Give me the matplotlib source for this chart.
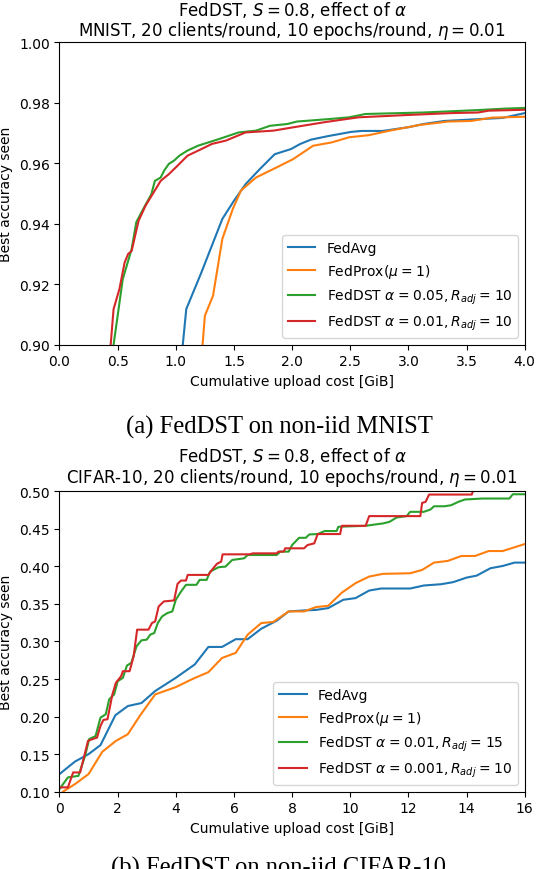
import matplotlib
matplotlib.use('Agg')
import matplotlib.pyplot as plt

# (a) MNIST
mn_avg_x = [1.06, 1.09, 1.22, 1.40, 1.50, 1.60, 1.72, 1.85, 1.99, 2.07, 2.16, 2.31, 2.51, 2.60, 2.78, 3.01, 3.13, 3.31, 3.60, 3.81, 4.0]
mn_avg_y = [0.900, 0.9118, 0.9239, 0.9416, 0.9476, 0.9531, 0.958, 0.963, 0.9647, 0.9664, 0.9678, 0.969, 0.9704, 0.9707, 0.9707, 0.972, 0.973, 0.974, 0.9746, 0.975, 0.9766]
mn_prox_x = [1.23, 1.25, 1.32, 1.40, 1.49, 1.56, 1.69, 1.87, 2.01, 2.18, 2.34, 2.49, 2.66, 2.84, 3.10, 3.34, 3.54, 3.72, 4.0]
mn_prox_y = [0.900, 0.9096, 0.9162, 0.935, 0.9449, 0.951, 0.9553, 0.9587, 0.9614, 0.9658, 0.9669, 0.9686, 0.9693, 0.9708, 0.9727, 0.9738, 0.974, 0.9751, 0.9754]
mn_dst1_x = [0.465, 0.50, 0.544, 0.62, 0.66, 0.72, 0.79, 0.82, 0.87, 0.90, 0.94, 0.985, 1.03, 1.10, 1.19, 1.37, 1.54, 1.69, 1.81, 1.96, 2.04, 2.31, 2.49, 2.63, 3.13, 3.60, 3.84, 4.0]
mn_dst1_y = [0.900, 0.9096, 0.9217, 0.9316, 0.9405, 0.9449, 0.9498, 0.9542, 0.9553, 0.9576, 0.9598, 0.9609, 0.9625, 0.9642, 0.9658, 0.968, 0.9702, 0.9708, 0.9724, 0.973, 0.9738, 0.9746, 0.9752, 0.9763, 0.9768, 0.9776, 0.9781, 0.9783]
mn_dst2_x = [0.44, 0.465, 0.515, 0.56, 0.59, 0.62, 0.68, 0.74, 0.81, 0.87, 0.94, 1.015, 1.10, 1.22, 1.31, 1.43, 1.60, 1.84, 2.01, 2.28, 2.57, 3.01, 3.37, 3.60, 3.69, 4.0]
mn_dst2_y = [0.900, 0.9118, 0.9184, 0.9272, 0.930, 0.931, 0.941, 0.946, 0.9504, 0.9542, 0.9564, 0.9592, 0.9625, 0.9647, 0.9664, 0.9675, 0.9702, 0.9708, 0.9719, 0.9736, 0.9752, 0.976, 0.9766, 0.9768, 0.9774, 0.9777]

# (b) CIFAR-10
cf_avg_x = [0, 0.53, 1.0, 1.41, 1.92, 2.35, 2.82, 3.29, 4.0, 4.65, 5.12, 5.59, 6.06, 6.47, 6.94, 7.47, 7.88, 8.41, 8.82, 9.24, 9.76, 10.18, 10.65, 11.06, 12.06, 12.53, 13.12, 13.53, 14.0, 14.35, 14.82, 15.24, 15.65, 16.0]
cf_avg_y = [0.1234, 0.140, 0.150, 0.162, 0.2017, 0.214, 0.218, 0.234, 0.2516, 0.2693, 0.2927, 0.2927, 0.303, 0.303, 0.317, 0.3276, 0.340, 0.3413, 0.342, 0.3444, 0.3555, 0.3577, 0.3678, 0.3705, 0.3705, 0.3745, 0.3762, 0.3789, 0.385, 0.3877, 0.3975, 0.4005, 0.405, 0.405]
cf_prox_x = [0.12, 0.53, 1.0, 1.47, 1.94, 2.35, 2.76, 3.29, 4.0, 4.59, 5.12, 5.59, 6.06, 6.47, 6.94, 7.35, 7.88, 8.41, 8.82, 9.24, 9.71, 10.18, 10.65, 11.12, 12.06, 12.47, 12.88, 13.35, 13.82, 14.29, 14.76, 15.24, 16.0]
cf_prox_y = [0.100, 0.110, 0.1234, 0.153, 0.1676, 0.1765, 0.2008, 0.2295, 0.2392, 0.2503, 0.2591, 0.278, 0.2848, 0.309, 0.3245, 0.3259, 0.340, 0.340, 0.3457, 0.3475, 0.365, 0.3776, 0.3864, 0.390, 0.3908, 0.3952, 0.405, 0.4072, 0.4138, 0.4138, 0.4204, 0.4204, 0.4297]
cf_dst1_x = [0, 0.29, 0.65, 0.88, 1.02, 1.24, 1.41, 1.59, 1.71, 1.88, 2.0, 2.18, 2.32, 2.47, 2.65, 2.82, 3.0, 3.12, 3.26, 3.38, 3.53, 3.71, 3.88, 4.0, 4.18, 4.35, 4.71, 4.82, 5.06, 5.18, 5.47, 5.71, 5.94, 6.35, 6.47, 7.47, 7.59, 7.88, 8.0, 8.24, 8.47, 8.59, 8.88, 9.12, 9.53, 9.59, 10.53, 10.94, 11.12, 11.35, 11.59, 11.94, 12.06, 12.53, 12.76, 12.88, 13.24, 13.47, 13.71, 13.94, 14.53, 15.47, 15.59, 16.0]
cf_dst1_y = [0.1035, 0.119, 0.121, 0.1477, 0.170, 0.174, 0.1986, 0.203, 0.223, 0.2295, 0.247, 0.2516, 0.268, 0.2715, 0.2936, 0.3015, 0.3024, 0.309, 0.3113, 0.3245, 0.3334, 0.3378, 0.340, 0.3555, 0.3665, 0.3754, 0.3754, 0.382, 0.382, 0.393, 0.3988, 0.3997, 0.4085, 0.4107, 0.4151, 0.4151, 0.4196, 0.4196, 0.4284, 0.438, 0.438, 0.4425, 0.443, 0.447, 0.447, 0.4527, 0.454, 0.4562, 0.4571, 0.4593, 0.465, 0.4669, 0.4726, 0.4726, 0.4757, 0.480, 0.480, 0.4814, 0.4858, 0.489, 0.4903, 0.4903, 0.496, 0.496]
cf_dst2_x = [0, 0.29, 0.47, 0.71, 0.88, 0.98, 1.14, 1.29, 1.41, 1.51, 1.65, 1.82, 1.94, 2.12, 2.18, 2.41, 2.55, 2.67, 3.06, 3.18, 3.29, 3.41, 3.59, 3.94, 4.06, 4.18, 4.35, 4.41, 5.12, 5.24, 5.41, 5.56, 5.61, 6.53, 6.65, 7.47, 7.53, 7.71, 7.76, 8.41, 8.53, 8.76, 8.88, 9.65, 9.71, 10.53, 10.65, 12.41, 12.47, 12.59, 12.71, 14.18, 14.24, 16.0]
cf_dst2_y = [0.1057, 0.1057, 0.1256, 0.1256, 0.152, 0.1676, 0.170, 0.172, 0.1875, 0.1955, 0.1964, 0.2295, 0.245, 0.2538, 0.2604, 0.2604, 0.2803, 0.3157, 0.3157, 0.3245, 0.3267, 0.3466, 0.3533, 0.3546, 0.3767, 0.3811, 0.3811, 0.3886, 0.3886, 0.3952, 0.4032, 0.4063, 0.416, 0.416, 0.4173, 0.4173, 0.4196, 0.4196, 0.424, 0.424, 0.4284, 0.4306, 0.443, 0.443, 0.454, 0.454, 0.4669, 0.4669, 0.4845, 0.4858, 0.4956, 0.4956, 0.503, 0.512]

EQ = r'\hspace{0.06}{=}\hspace{0.06}'

fig = plt.figure(figsize=(5.36, 8.7), dpi=100)

# top panel
ax1 = fig.add_axes([0.111, 0.6026, 0.868, 0.3476])
ax1.plot(mn_avg_x, mn_avg_y, color='C0', label='FedAvg')
ax1.plot(mn_prox_x, mn_prox_y, color='C1', label=r'FedProx($\mu' + EQ + r'1$)')
ax1.plot(mn_dst1_x, mn_dst1_y, color='C2', label=r'FedDST $\alpha' + EQ + r'0.05, R_{adj}' + EQ + r'10$')
ax1.plot(mn_dst2_x, mn_dst2_y, color='C3', label=r'FedDST $\alpha' + EQ + r'0.01, R_{adj}' + EQ + r'10$')
ax1.set_xlim(0, 4.0)
ax1.set_ylim(0.90, 1.00)
ax1.set_xticks([0, 0.5, 1.0, 1.5, 2.0, 2.5, 3.0, 3.5, 4.0])
ax1.set_yticks([0.90, 0.92, 0.94, 0.96, 0.98, 1.00])
ax1.set_xlabel('Cumulative upload cost [GiB]')
ax1.set_ylabel('Best accuracy seen')
ax1.set_title('FedDST, $S=0.8$, effect of $\\alpha$\nMNIST, 20 clients/round, 10 epochs/round, $\\eta=0.01$',
              linespacing=1.05, pad=5)
ax1.legend(loc='lower right')

# bottom panel
ax2 = fig.add_axes([0.111, 0.0889, 0.868, 0.3453])
ax2.plot(cf_avg_x, cf_avg_y, color='C0', label='FedAvg')
ax2.plot(cf_prox_x, cf_prox_y, color='C1', label=r'FedProx($\mu' + EQ + r'1$)')
ax2.plot(cf_dst1_x, cf_dst1_y, color='C2', label=r'FedDST $\alpha' + EQ + r'0.01, R_{adj}' + EQ + r'15$')
ax2.plot(cf_dst2_x, cf_dst2_y, color='C3', label=r'FedDST $\alpha' + EQ + r'0.001, R_{adj}' + EQ + r'10$')
ax2.set_xlim(0, 16)
ax2.set_ylim(0.10, 0.50)
ax2.set_xticks(range(0, 17, 2))
ax2.set_yticks([0.10, 0.15, 0.20, 0.25, 0.30, 0.35, 0.40, 0.45, 0.50])
ax2.set_xlabel('Cumulative upload cost [GiB]')
ax2.set_ylabel('Best accuracy seen')
ax2.set_title('FedDST, $S=0.8$, effect of $\\alpha$\nCIFAR-10, 20 clients/round, 10 epochs/round, $\\eta=0.01$',
              linespacing=1.05, pad=7)
ax2.legend(loc='lower right')

# captions
fig.text(0.5205, 1 - 427 / 870, '(a) FedDST on non-iid MNIST', ha='center', va='center',
         family='Liberation Serif', fontsize=17.7)
fig.text(0.5205, 1 - 868 / 870, '(b) FedDST on non-iid CIFAR-10', ha='center', va='center',
         family='Liberation Serif', fontsize=17.7)

fig.savefig('out.png', dpi=100)
